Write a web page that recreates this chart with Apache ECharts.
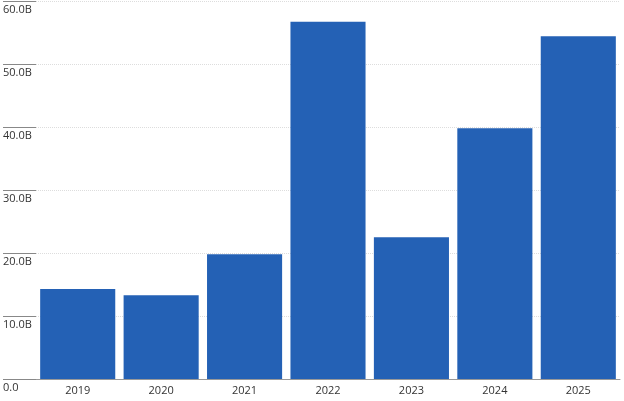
<!DOCTYPE html>
<html>
<head>
<meta charset="utf-8">
<script src="https://cdn.jsdelivr.net/npm/echarts@6/dist/echarts.min.js"></script>
<style>html,body{margin:0;padding:0;background:#fff}#main{width:624px;height:401px}</style>
</head>
<body>
<div id="main"></div>
<script>
var years = ['2019', '2020', '2021', '2022', '2023', '2024', '2025'];
var values = [14.3, 13.3, 19.8, 56.7, 22.5, 39.8, 54.4];

var chart = echarts.init(document.getElementById('main'));
chart.setOption({
  animation: false,
  grid: { left: 33, right: 4, top: 1, bottom: 22 },
  xAxis: {
    type: 'category',
    data: years,
    axisLine: { lineStyle: { color: '#999' } },
    axisTick: { show: false },
    axisLabel: { color: '#333', fontSize: 11, fontFamily: 'Open Sans', margin: 6 }
  },
  yAxis: {
    type: 'value',
    min: 0,
    max: 60,
    interval: 10,
    axisLine: { show: false },
    axisTick: { show: true, length: 33, lineStyle: { color: '#888' } },
    splitLine: { lineStyle: { color: '#ddd', type: 'dotted' } },
    axisLabel: {
      color: '#333', fontSize: 11, fontFamily: 'Open Sans',
      align: 'left', verticalAlign: 'top', margin: 33, padding: [3, 0, 0, 0],
      formatter: function (v) { return v === 0 ? '0.0' : v.toFixed(1) + 'B'; }
    }
  },
  series: [{
    type: 'bar',
    data: values,
    barCategoryGap: '10%',
    itemStyle: { color: '#2461b5' }
  }]
});
</script>
</body>
</html>
